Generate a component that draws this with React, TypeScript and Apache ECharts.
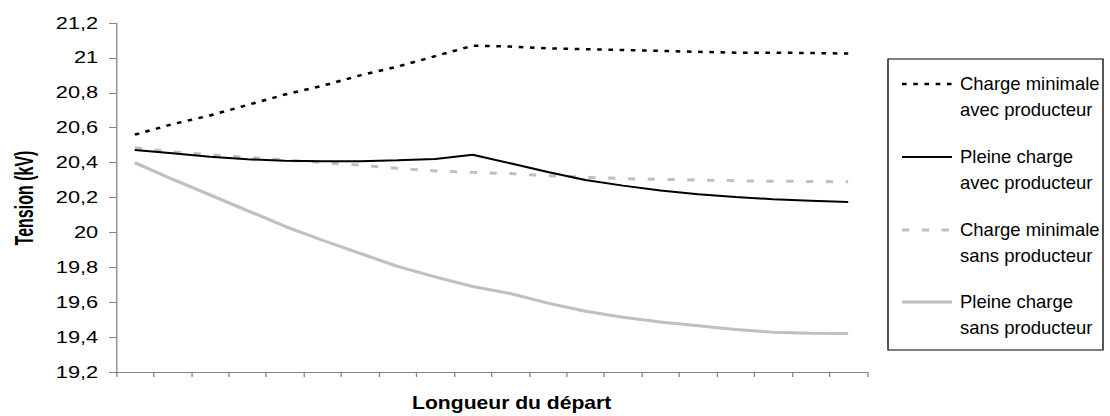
import React, { useEffect, useRef } from "react";
import * as echarts from "echarts";

// Horizontal stretch of the reference picture
const S = 1.32;
const W = 841;
const H = 416;

const categories = ["1", "2", "3", "4", "5", "6", "7", "8", "9", "10", "11", "12", "13", "14", "15", "16", "17", "18", "19", "20"];

const seriesNames = [
  "Charge minimale\navec producteur",
  "Pleine charge\navec producteur",
  "Charge minimale\nsans producteur",
  "Pleine charge\nsans producteur",
];

const minAvec = [20.56, 20.62, 20.67, 20.73, 20.79, 20.84, 20.9, 20.95, 21.01, 21.07, 21.065, 21.055, 21.05, 21.045, 21.04, 21.035, 21.03, 21.03, 21.028, 21.025];
const pleineAvec = [20.472, 20.453, 20.434, 20.419, 20.41, 20.408, 20.408, 20.413, 20.42, 20.445, 20.396, 20.346, 20.3, 20.268, 20.24, 20.218, 20.203, 20.19, 20.182, 20.174];
const minSans = [20.485, 20.462, 20.445, 20.43, 20.415, 20.4, 20.385, 20.368, 20.352, 20.344, 20.337, 20.325, 20.316, 20.308, 20.304, 20.3, 20.296, 20.293, 20.292, 20.29];
const pleineSans = [20.4, 20.305, 20.215, 20.125, 20.035, 19.955, 19.88, 19.805, 19.745, 19.69, 19.65, 19.595, 19.548, 19.514, 19.487, 19.465, 19.443, 19.428, 19.422, 19.42];

const yTitle = "Tension (kV)";
const xTitle = "Longueur du départ";

const FONT = "'Liberation Sans', Arial, sans-serif";
const AXIS = "#868686";
const GREY = "#c0c0c0";

const styles = [
  { color: "#000000", width: 2.5, dash: [3.5, 5] as number[] | null },
  { color: "#000000", width: 2, dash: null },
  { color: GREY, width: 3, dash: [5.5, 9.5] },
  { color: GREY, width: 3, dash: null },
];

export default function App() {
  const ref = useRef<HTMLDivElement>(null);
  useEffect(() => {
    if (!ref.current) return;
    const chart = echarts.init(ref.current, null, { renderer: "svg" });
    const data = [minAvec, pleineAvec, minSans, pleineSans];
    const plotLeft = 116 / S;
    const plotRight = 867 / S;

    const legendLeft = 888 / S;
    const legendRight = 1103 / S;
    const legendTop = 59;
    const legendBottom = 350;
    const lineY = [84, 157, 230, 302];
    const lineH = 26;
    const textScaleY = 1.25;

    const graphic: any[] = [
      {
        type: "rect",
        shape: { x: legendLeft, y: legendTop, width: legendRight - legendLeft, height: legendBottom - legendTop },
        style: { fill: "#fff", stroke: "#000", lineWidth: 1 },
        z: 10,
      },
      {
        type: "text",
        x: 18.5,
        y: 198,
        rotation: Math.PI / 2,
        scaleY: 1.2,
        style: { text: yTitle, font: `bold 16px ${FONT}`, fill: "#000", textAlign: "center", textVerticalAlign: "middle" },
      },
      {
        type: "text",
        x: 511.7 / S,
        y: 403,
        scaleY: 1.1,
        style: { text: xTitle, font: `bold 16px ${FONT}`, fill: "#000", textAlign: "center", textVerticalAlign: "middle" },
      },
    ];
    seriesNames.forEach((name, i) => {
      graphic.push({
        type: "line",
        z: 11,
        shape: { x1: 902 / S, y1: lineY[i], x2: 952 / S, y2: lineY[i] },
        style: { stroke: styles[i].color, lineWidth: styles[i].width, lineDash: styles[i].dash || undefined },
      });
      graphic.push({
        type: "text",
        z: 11,
        x: 960 / S,
        y: lineY[i] - lineH / 2,
        scaleY: textScaleY,
        style: { text: name, font: `14px ${FONT}`, fill: "#000", lineHeight: lineH / textScaleY, textVerticalAlign: "top", textAlign: "left" },
      });
    });

    chart.setOption({
      animation: false,
      grid: { left: plotLeft, right: W - plotRight, top: 23, bottom: H - 372, containLabel: false },
      xAxis: {
        type: "category",
        data: categories,
        boundaryGap: true,
        axisLine: { lineStyle: { color: AXIS, width: 1 } },
        axisTick: { show: true, length: 5, lineStyle: { color: AXIS } },
        axisLabel: { show: false },
        splitLine: { show: false },
      },
      yAxis: {
        type: "value",
        min: 19.2,
        max: 21.2,
        interval: 0.2,
        axisLine: { show: true, lineStyle: { color: AXIS, width: 1 } },
        axisTick: { show: true, length: 5.3, lineStyle: { color: AXIS } },
        axisLabel: {
          color: "#000",
          fontSize: 16.5,
          fontFamily: FONT,
          margin: 13.5,
          formatter: (v: number) => String(Number(v.toFixed(1))).replace(".", ","),
        },
        splitLine: { show: false },
      },
      series: data.map((d, i) => ({
        type: "line",
        name: seriesNames[i],
        data: d,
        symbol: "none",
        smooth: false,
        lineStyle: { color: styles[i].color, width: styles[i].width, type: styles[i].dash || "solid" },
        z: 4 - i,
      })),
      graphic,
    });
    return () => chart.dispose();
  }, []);

  return (
    <div
      style={{
        position: "fixed",
        left: 0,
        top: 0,
        width: W,
        height: H,
        transform: `scaleX(${S})`,
        transformOrigin: "0 0",
        background: "#fff",
      }}
    >
      <div ref={ref} style={{ width: W, height: H }} />
    </div>
  );
}
